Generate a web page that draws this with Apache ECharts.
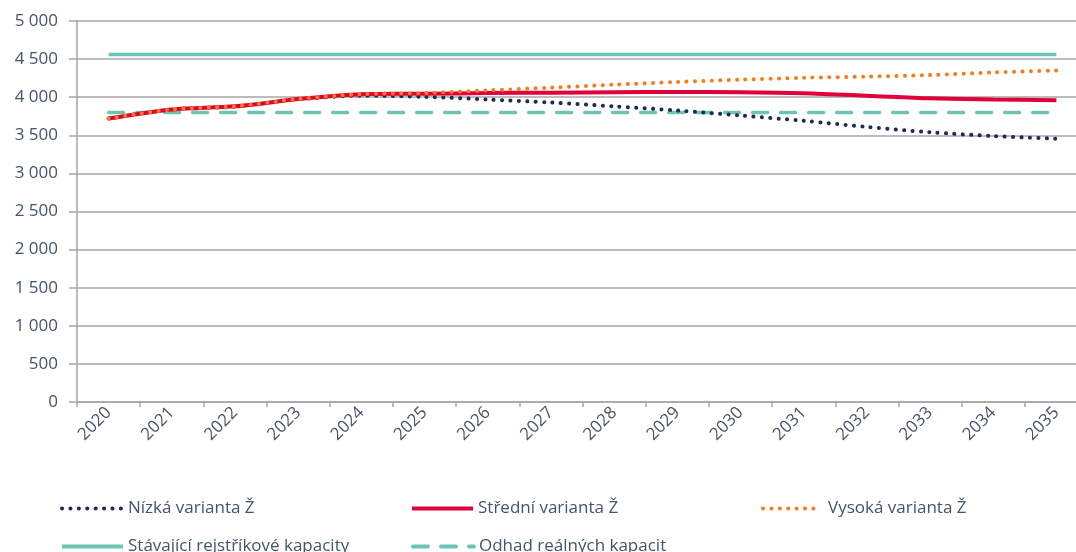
<!DOCTYPE html>
<html>
<head>
<meta charset="utf-8">
<script src="https://cdn.jsdelivr.net/npm/echarts@6/dist/echarts.min.js"></script>
<style>
  html, body { margin: 0; padding: 0; background: #fff; overflow: hidden; }
  /* plocha grafu v originále přesahuje ořez obrázku vpravo */
  #chart { width: 1088px; height: 552px; }
</style>
</head>
<body>
<div id="chart"></div>
<script>
// roky na ose x
const years = ['2020', '2021', '2022', '2023', '2024', '2025', '2026', '2027',
  '2028', '2029', '2030', '2031', '2032', '2033', '2034', '2035']

// varianty vývoje
const nizka = [3720, 3840, 3875, 3970, 4020, 4005, 3970, 3930, 3880, 3825, 3760, 3690, 3610, 3540, 3490, 3455]
const stredni = [3720, 3840, 3880, 3975, 4040, 4045, 4055, 4060, 4065, 4068, 4065, 4052, 4020, 3985, 3970, 3960]
const vysoka = [3720, 3840, 3880, 3975, 4040, 4055, 4090, 4125, 4165, 4200, 4230, 4255, 4270, 4290, 4325, 4350]
const stavajici = [4560, 4560, 4560, 4560, 4560, 4560, 4560, 4560, 4560, 4560, 4560, 4560, 4560, 4560, 4560, 4560]
const odhad = [3800, 3800, 3800, 3800, 3800, 3800, 3800, 3800, 3800, 3800, 3800, 3800, 3800, 3800, 3800, 3800]

const names = ['Nízká varianta Ž', 'Střední varianta Ž', 'Vysoká varianta Ž',
  'Stávající rejstříkové kapacity', 'Odhad reálných kapacit']

const textColor = '#44546a'
const font = 'Open Sans'
const gridColor = '#a6a6a6'

const chart = echarts.init(document.getElementById('chart'), null, { renderer: 'canvas' })

// legenda je v grafu rozházená, proto každá položka zvlášť
function legendItem(name, left, top, width, textPad) {
  return {
    data: [name],
    left: left,
    top: top,
    padding: 0,
    itemWidth: width || 61,
    itemHeight: 12,
    selectedMode: false,
    itemStyle: { opacity: 0 }, // bez koleček, jen čára
    lineStyle: { width: 4 },
    textStyle: {
      color: textColor,
      fontFamily: font,
      fontSize: 17,
      padding: [0, 0, 0, textPad || 0]
    }
  }
}

chart.setOption({
  animation: false,
  legend: [
    legendItem(names[0], 60, 500),
    legendItem(names[1], 410, 500),
    legendItem(names[2], 761, 500, 52, 8),
    legendItem(names[3], 60, 538),
    legendItem(names[4], 411, 538)
  ],
  grid: {
    left: 77,
    top: 21,
    right: 0,
    bottom: 150,
    containLabel: false
  },
  xAxis: {
    type: 'category',
    data: years,
    boundaryGap: true,
    axisLine: { lineStyle: { color: gridColor, width: 1.5 } },
    axisTick: { show: true, length: 5, lineStyle: { color: gridColor, width: 1.5 } },
    axisLabel: {
      rotate: 45,
      margin: 8,
      color: textColor,
      fontFamily: font,
      fontSize: 17
    }
  },
  yAxis: {
    type: 'value',
    min: 0,
    max: 5000,
    interval: 500,
    axisLine: { show: true, lineStyle: { color: gridColor, width: 1.5 } },
    axisTick: { show: true, length: 8, lineStyle: { color: gridColor, width: 1.5 } },
    splitLine: { lineStyle: { color: gridColor, width: 1.5 } },
    axisLabel: {
      margin: 19,
      color: textColor,
      fontFamily: font,
      fontSize: 17,
      formatter: v => String(v).replace(/\B(?=(\d{3})+(?!\d))/g, ' ')
    }
  },
  series: [
    {
      name: names[0],
      type: 'line',
      data: nizka,
      symbol: 'none',
      smooth: 0.3,
      lineStyle: { color: '#1f2a55', width: 4, type: [0.1, 8.3], cap: 'round' },
      itemStyle: { color: '#1f2a55' },
      z: 3
    },
    {
      name: names[1],
      type: 'line',
      data: stredni,
      symbol: 'none',
      smooth: 0.3,
      lineStyle: { color: '#e2003a', width: 4 },
      itemStyle: { color: '#e2003a' },
      z: 4
    },
    {
      name: names[2],
      type: 'line',
      data: vysoka,
      symbol: 'none',
      smooth: 0.3,
      lineStyle: { color: '#f07f1e', width: 4, type: [0.1, 8.3], cap: 'round' },
      itemStyle: { color: '#f07f1e' },
      z: 5
    },
    {
      name: names[3],
      type: 'line',
      data: stavajici,
      symbol: 'none',
      lineStyle: { color: '#6cc4b4', width: 3.5 },
      itemStyle: { color: '#6cc4b4' },
      z: 2
    },
    {
      name: names[4],
      type: 'line',
      data: odhad,
      symbol: 'none',
      lineStyle: { color: '#6cc4b4', width: 3.5, type: [15, 13], cap: 'round' },
      itemStyle: { color: '#6cc4b4' },
      z: 2
    }
  ]
})
</script>
</body>
</html>
